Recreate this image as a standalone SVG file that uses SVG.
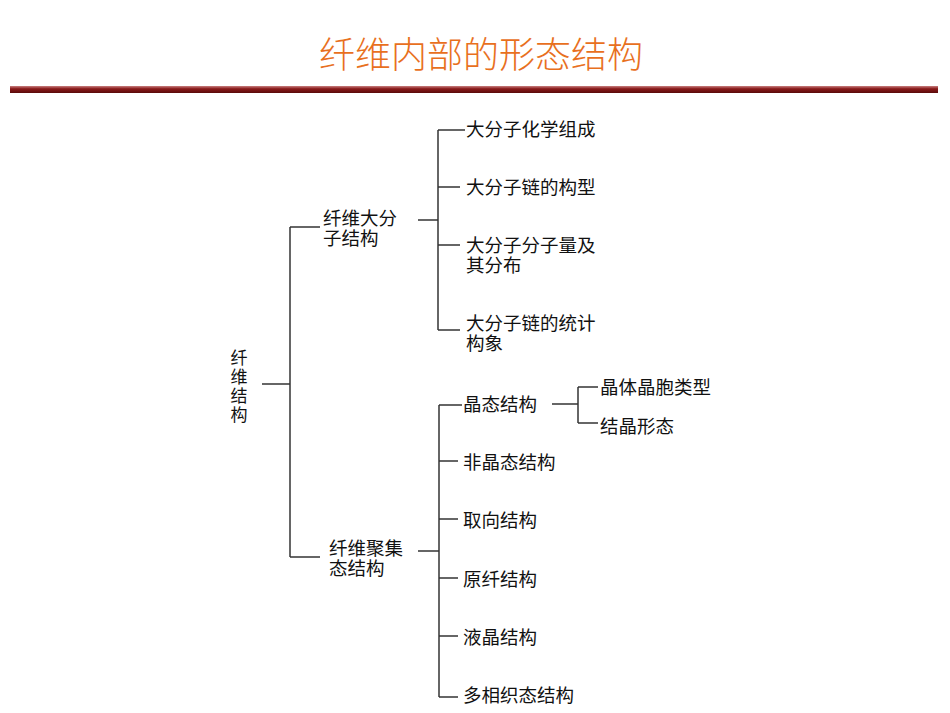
<svg xmlns="http://www.w3.org/2000/svg" width="950" height="713" viewBox="0 0 950 713">
<style>
text{font-family:"Noto Sans CJK SC","Liberation Sans",sans-serif;font-size:18.5px;fill:#111;dominant-baseline:central}
.title{font-size:36px;fill:#E8701E;text-anchor:middle;font-weight:300}
.r{font-size:17px;writing-mode:vertical-rl;letter-spacing:2px}
#connectors line{stroke:#333;stroke-width:1.5}
</style>
<defs><linearGradient id="bar" x1="0" y1="0" x2="0" y2="1"><stop offset="0" stop-color="#c98080"/><stop offset="0.4" stop-color="#8a1a1a"/><stop offset="1" stop-color="#5a0a0a"/></linearGradient></defs>
<rect width="950" height="713" fill="#fff"/>
<text class="title" x="481" y="52">纤维内部的形态结构</text>
<rect x="10" y="86" width="928" height="7" fill="url(#bar)"/>
<g id="connectors">
<line x1="262" y1="384" x2="290" y2="384"/>
<line x1="290" y1="227" x2="290" y2="557"/>
<line x1="290" y1="227" x2="320" y2="227"/>
<line x1="290" y1="557" x2="320" y2="557"/>
<line x1="418" y1="220" x2="438" y2="220"/>
<line x1="438" y1="130" x2="438" y2="330"/>
<line x1="438" y1="130" x2="465" y2="130"/>
<line x1="438" y1="187" x2="460" y2="187"/>
<line x1="438" y1="245" x2="460" y2="245"/>
<line x1="438" y1="330" x2="460" y2="330"/>
<line x1="418" y1="551" x2="439" y2="551"/>
<line x1="439" y1="405" x2="439" y2="697"/>
<line x1="439" y1="405" x2="462" y2="405"/>
<line x1="439" y1="461" x2="458" y2="461"/>
<line x1="439" y1="519" x2="458" y2="519"/>
<line x1="439" y1="578" x2="458" y2="578"/>
<line x1="439" y1="636" x2="458" y2="636"/>
<line x1="439" y1="697" x2="458" y2="697"/>
<line x1="552" y1="404" x2="578" y2="404"/>
<line x1="578" y1="387" x2="578" y2="423"/>
<line x1="578" y1="387" x2="598" y2="387"/>
<line x1="578" y1="423" x2="598" y2="423"/>
</g>
<g id="root"><text class="r" x="239" y="349">纤维结构</text></g>
<g id="n1"><text x="323" y="217">纤维大分<tspan x="323" dy="20">子结构</tspan></text></g>
<g id="n2"><text x="329" y="547">纤维聚集<tspan x="329" dy="20">态结构</tspan></text></g>
<g id="a1"><text x="466" y="128">大分子化学组成</text></g>
<g id="a2"><text x="466" y="186">大分子链的构型</text></g>
<g id="a3"><text x="466" y="244">大分子分子量及<tspan x="466" dy="20">其分布</tspan></text></g>
<g id="a4"><text x="466" y="322">大分子链的统计<tspan x="466" dy="20">构象</tspan></text></g>
<g id="b1"><text x="463" y="403">晶态结构</text></g>
<g id="b2"><text x="463" y="461">非晶态结构</text></g>
<g id="b3"><text x="463" y="519">取向结构</text></g>
<g id="b4"><text x="463" y="578">原纤结构</text></g>
<g id="b5"><text x="463" y="636">液晶结构</text></g>
<g id="b6"><text x="463" y="694">多相织态结构</text></g>
<g id="c1"><text x="600" y="386">晶体晶胞类型</text></g>
<g id="c2"><text x="600" y="425">结晶形态</text></g>
</svg>
